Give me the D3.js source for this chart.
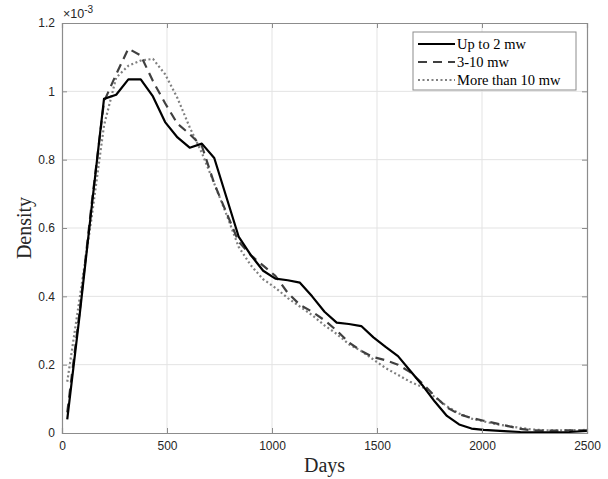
<!DOCTYPE html>
<html>
<head>
<meta charset="utf-8">
<script src="https://cdn.jsdelivr.net/npm/d3@7"></script>
<style>
  body { margin: 0; background: #fff; }
  .tick text { font-family: "Liberation Sans", Arial, sans-serif; font-size: 12px; fill: #262626; }
</style>
</head>
<body>
<div id="chart"></div>
<script>
var W = 608, H = 479;
var margin = {top: 23, right: 21, bottom: 46, left: 62};

// days at which the densities were evaluated
var days = [25, 83, 141, 200, 258, 316, 375, 433, 491, 550, 608, 666, 725, 783, 841,
  900, 958, 1016, 1075, 1133, 1191, 1250, 1308, 1366, 1425, 1483, 1541, 1600, 1658,
  1716, 1775, 1833, 1891, 1950, 2008, 2066, 2125, 2183, 2241, 2300, 2358, 2416, 2500];

// density values, in units of 1e-3
var upTo2 = [0.04, 0.34, 0.66, 0.978, 0.99, 1.035, 1.035, 0.985, 0.91, 0.865, 0.835, 0.847, 0.805, 0.69, 0.575,
  0.52, 0.475, 0.452, 0.447, 0.44, 0.40, 0.355, 0.323, 0.319, 0.313, 0.28, 0.252, 0.225, 0.182,
  0.14, 0.092, 0.05, 0.025, 0.013, 0.009, 0.007, 0.005, 0.003, 0.002, 0.002, 0.002, 0.003, 0.006];
var mw3to10 = [0.06, 0.35, 0.67, 0.97, 1.05, 1.125, 1.105, 1.03, 0.965, 0.905, 0.875, 0.84, 0.73, 0.645, 0.56,
  0.52, 0.49, 0.46, 0.41, 0.375, 0.355, 0.33, 0.30, 0.265, 0.24, 0.222, 0.213, 0.20, 0.178,
  0.145, 0.108, 0.075, 0.055, 0.044, 0.036, 0.028, 0.02, 0.012, 0.008, 0.007, 0.007, 0.008, 0.008];
var over10 = [0.15, 0.39, 0.63, 0.9, 1.04, 1.075, 1.09, 1.095, 1.05, 0.98, 0.895, 0.82, 0.73, 0.64, 0.545,
  0.49, 0.45, 0.425, 0.395, 0.37, 0.345, 0.315, 0.29, 0.26, 0.24, 0.215, 0.19, 0.17, 0.15,
  0.135, 0.105, 0.078, 0.057, 0.042, 0.034, 0.026, 0.02, 0.015, 0.01, 0.008, 0.008, 0.008, 0.009];

var xTicks = [0, 500, 1000, 1500, 2000, 2500];
var yTicks = [0, 0.2, 0.4, 0.6, 0.8, 1, 1.2];
var seriesNames = ["Up to 2 mw", "3-10 mw", "More than 10 mw"];

var series = [
  {name: seriesNames[0], values: upTo2, color: "#000000", dash: null, width: 2.2},
  {name: seriesNames[1], values: mw3to10, color: "#404040", dash: "9,6", width: 2.2},
  {name: seriesNames[2], values: over10, color: "#808080", dash: "2,2.5", width: 2.2}
];

var iw = W - margin.left - margin.right,
    ih = H - margin.top - margin.bottom;

var x = d3.scaleLinear().domain([0, 2500]).range([0, iw]);
var y = d3.scaleLinear().domain([0, 1.2]).range([ih, 0]);

var svg = d3.select("#chart").append("svg")
  .attr("width", W)
  .attr("height", H);

var g = svg.append("g")
  .attr("transform", "translate(" + margin.left + "," + margin.top + ")");

// grid
g.append("g").selectAll("line")
  .data(xTicks.slice(1, -1))
  .enter().append("line")
  .attr("x1", function(d) { return x(d); })
  .attr("x2", function(d) { return x(d); })
  .attr("y1", 0).attr("y2", ih)
  .attr("stroke", "#e3e3e3").attr("stroke-width", 1);
g.append("g").selectAll("line")
  .data(yTicks.slice(1, -1))
  .enter().append("line")
  .attr("x1", 0).attr("x2", iw)
  .attr("y1", function(d) { return y(d); })
  .attr("y2", function(d) { return y(d); })
  .attr("stroke", "#e3e3e3").attr("stroke-width", 1);

// lines
var line = d3.line()
  .x(function(d, i) { return x(days[i]); })
  .y(function(d) { return y(d); });

g.selectAll(".series")
  .data(series.slice().reverse())
  .enter().append("path")
  .attr("class", "series")
  .attr("d", function(s) { return line(s.values); })
  .attr("fill", "none")
  .attr("stroke", function(s) { return s.color; })
  .attr("stroke-width", function(s) { return s.width; })
  .attr("stroke-dasharray", function(s) { return s.dash; })
  .attr("stroke-linejoin", "round");

// axes (ticks pointing inward, box all round)
var axisColor = "#8c8c8c";
g.append("g")
  .attr("transform", "translate(0," + ih + ")")
  .call(d3.axisBottom(x).tickValues(xTicks).tickSize(-5).tickPadding(8).tickFormat(d3.format("d")));
g.append("g")
  .call(d3.axisLeft(y).tickValues(yTicks).tickSize(-5).tickPadding(7).tickFormat(function(d) { return String(d); }));
g.append("g")
  .attr("transform", "translate(" + iw + ",0)")
  .call(d3.axisRight(y).tickValues(yTicks).tickSize(-5).tickFormat(""));
g.append("g")
  .call(d3.axisTop(x).tickValues(xTicks).tickSize(-5).tickFormat(""));

g.selectAll(".domain, .tick line").attr("stroke", axisColor);
g.selectAll(".domain").attr("stroke-width", 1.2);

// exponent label
var expo = svg.append("text")
  .attr("x", margin.left + 1)
  .attr("y", margin.top - 5)
  .attr("font-family", "Liberation Sans, Arial, sans-serif")
  .attr("font-size", "12.5px")
  .attr("fill", "#262626");
expo.append("tspan").text("\u00d710");
expo.append("tspan").attr("dy", -5).attr("font-size", "10px").text("-3");

// axis titles
svg.append("text")
  .attr("x", margin.left + iw / 2)
  .attr("y", 472)
  .attr("text-anchor", "middle")
  .attr("font-family", "Liberation Serif, Times New Roman, serif")
  .attr("font-size", "20px")
  .attr("fill", "#262626")
  .text("Days");

svg.append("text")
  .attr("transform", "translate(31," + (margin.top + ih / 2) + ") rotate(-90)")
  .attr("text-anchor", "middle")
  .attr("font-family", "Liberation Serif, Times New Roman, serif")
  .attr("font-size", "20px")
  .attr("fill", "#262626")
  .text("Density");

// legend
var legend = svg.append("g")
  .attr("transform", "translate(413,32)");
legend.append("rect")
  .attr("width", 163).attr("height", 58)
  .attr("fill", "#fff")
  .attr("stroke", "#8c8c8c").attr("stroke-width", 1);
var items = legend.selectAll(".item")
  .data(series)
  .enter().append("g")
  .attr("class", "item")
  .attr("transform", function(d, i) { return "translate(0," + (12 + i * 18) + ")"; });
items.append("line")
  .attr("x1", 5).attr("x2", 42)
  .attr("y1", 0).attr("y2", 0)
  .attr("stroke", function(d) { return d.color; })
  .attr("stroke-width", function(d) { return d.width; })
  .attr("stroke-dasharray", function(d) { return d.dash; });
items.append("text")
  .attr("x", 44)
  .attr("y", 4.5)
  .attr("font-family", "Liberation Serif, Times New Roman, serif")
  .attr("font-size", "14.5px")
  .attr("fill", "#000")
  .text(function(d) { return d.name; });
</script>
</body>
</html>
